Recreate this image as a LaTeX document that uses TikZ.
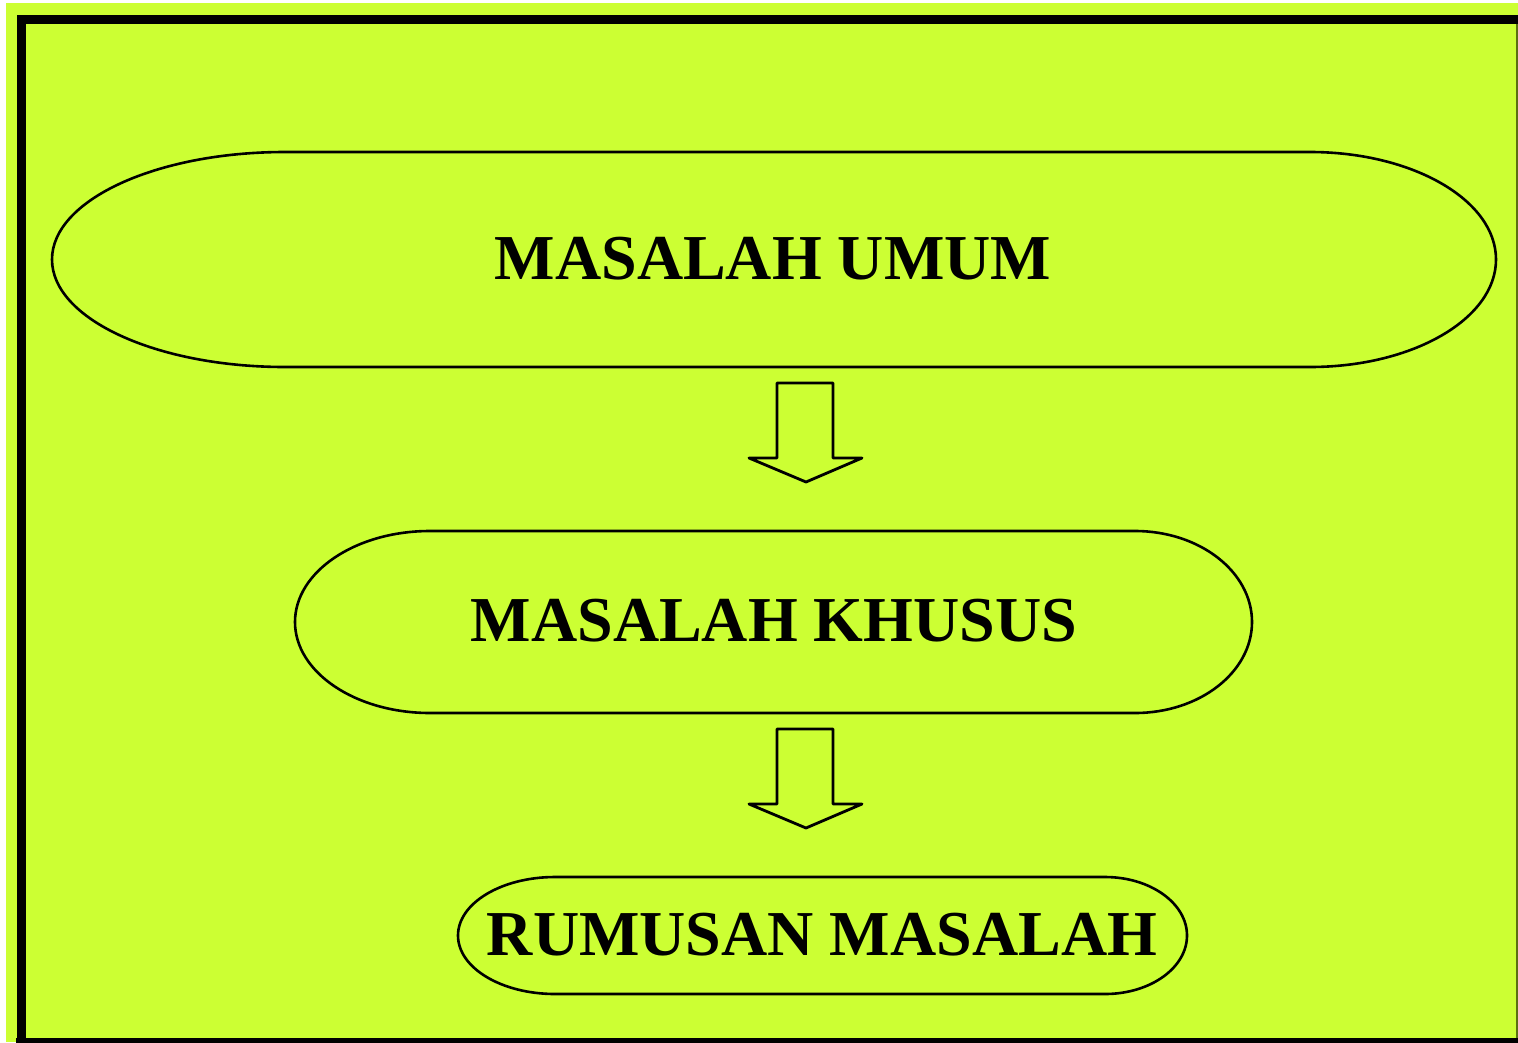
\documentclass[tikz,border=0pt]{standalone}
\usepackage{fontspec}
\setmainfont{Liberation Serif}
\definecolor{bg}{HTML}{CCFF33}
\definecolor{olive}{HTML}{5A7010}
\begin{document}
\begin{tikzpicture}[x=1pt,y=-1pt,
  outline/.style={draw=black,line width=2.6pt,line join=round},
  lbl/.style={font=\fontsize{64}{70}\selectfont\bfseries,text=black,inner sep=0pt},
  blockarrow/.style={draw=black,line width=2.8pt,line join=round,fill=bg}]
\useasboundingbox (0,0) rectangle (1518,1042);
\fill[white] (0,0) rectangle (1518,1042);
\fill[bg] (6,3) rectangle (1518,1042);
% frame
\draw[black,line width=9pt] (21,1046) -- (21,19.5) -- (1518,19.5);
\draw[black,line width=9pt] (16,1042.5) -- (1518,1042.5);
\draw[olive,line width=1.5pt] (1517,24) -- (1517,1038);
% top shape
\draw[outline] (285,152) -- (1310,152)
  arc[start angle=-90,end angle=90,x radius=186,y radius=107.5]
  -- (285,367)
  arc[start angle=90,end angle=270,x radius=233,y radius=107.5] -- cycle;
\node[lbl] (umum) at (773,259) {MASALAH UMUM};
% arrow 1
\draw[blockarrow] (777,383) -- (833,383) -- (833,458) -- (862,458) -- (806,482) -- (749,458) -- (777,458) -- cycle;
% middle shape
\draw[outline] (430,531) -- (1135,531)
  arc[start angle=-90,end angle=90,x radius=117,y radius=91]
  -- (430,713)
  arc[start angle=90,end angle=270,x radius=135,y radius=91] -- cycle;
\node[lbl] (khusus) at (774,621) {MASALAH KHUSUS};
% arrow 2
\draw[blockarrow] (777,729) -- (833,729) -- (833,804) -- (862,804) -- (806,828) -- (749,804) -- (777,804) -- cycle;
% bottom shape
\draw[outline] (555,877) -- (1105,877)
  arc[start angle=-90,end angle=90,x radius=82,y radius=58.5]
  -- (555,994)
  arc[start angle=90,end angle=270,x radius=97,y radius=58.5] -- cycle;
\node[lbl] (rumusan) at (822,935) {RUMUSAN MASALAH};
\end{tikzpicture}
\end{document}
